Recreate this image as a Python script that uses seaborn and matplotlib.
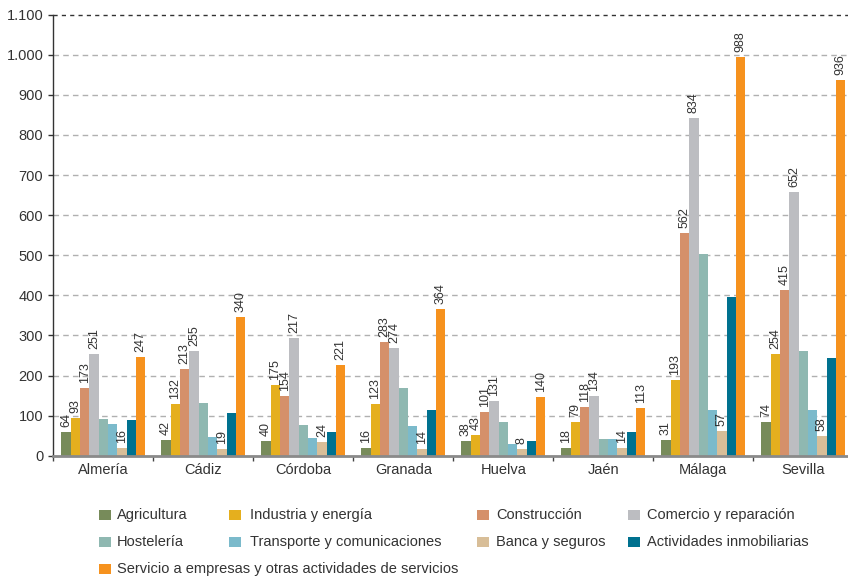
import matplotlib
matplotlib.use("Agg")
import matplotlib.pyplot as plt
from matplotlib.patches import Rectangle
from matplotlib.ticker import FuncFormatter, FixedLocator
import seaborn as sns
import pandas as pd

provinces = ["Almería", "Cádiz", "Córdoba", "Granada", "Huelva", "Jaén", "Málaga", "Sevilla"]
sectors = ["Agricultura", "Industria y energía", "Construcción", "Comercio y reparación",
           "Hostelería", "Transporte y comunicaciones", "Banca y seguros",
           "Actividades inmobiliarias",
           "Servicio a empresas y otras actividades de servicios"]
colors = ["#778B5A", "#E5AF1E", "#D5906A", "#BCBDC1", "#8FB8B1", "#7BBACB",
          "#D8BE98", "#00718F", "#F6921E"]

# bar heights as drawn
agricultura = [59, 39, 37, 19, 37, 19, 39, 84]
industria = [94, 129, 176, 129, 52, 84, 189, 254]
construccion = [169, 216, 149, 284, 109, 121, 555, 413]
comercio = [254, 261, 294, 269, 136, 149, 842, 658]
hosteleria = [92, 131, 77, 169, 84, 42, 503, 261]
transporte = [79, 47, 44, 74, 29, 42, 114, 114]
banca = [19, 17, 34, 17, 17, 19, 62, 49]
inmobiliarias = [89, 106, 59, 114, 37, 59, 396, 244]
servicios = [247, 346, 226, 366, 146, 119, 994, 937]

# value labels printed above bars
agricultura_lbl = [64, 42, 40, 16, 38, 18, 31, 74]
industria_lbl = [93, 132, 175, 123, 43, 79, 193, 254]
construccion_lbl = [173, 213, 154, 283, 101, 118, 562, 415]
comercio_lbl = [251, 255, 217, 274, 131, 134, 834, 652]
banca_lbl = [16, 19, 24, 14, 8, 14, 57, 58]
servicios_lbl = [247, 340, 221, 364, 140, 113, 988, 936]

yticks = [0, 100, 200, 300, 400, 500, 600, 700, 800, 900, 1000, 1100]

series = [agricultura, industria, construccion, comercio, hosteleria, transporte,
          banca, inmobiliarias, servicios]
labels = [agricultura_lbl, industria_lbl, construccion_lbl, comercio_lbl, None, None,
          banca_lbl, None, servicios_lbl]

rows = []
for s, vals in zip(sectors, series):
    for p, v in zip(provinces, vals):
        rows.append({"Provincia": p, "Sector": s, "Valor": v})
df = pd.DataFrame(rows)

plt.rcParams["font.family"] = ["Liberation Sans", "DejaVu Sans"]
TXT = "#333333"

W, H = 848, 578
fig = plt.figure(figsize=(W / 100, H / 100), dpi=100)
ax_left, ax_right, ax_top, ax_bottom = 53.3, 848, 14.7, 455.7
ax = fig.add_axes([ax_left / W, 1 - ax_bottom / H, (ax_right - ax_left) / W,
                   (ax_bottom - ax_top) / H])

sns.barplot(data=df, x="Provincia", y="Valor", hue="Sector", order=provinces,
            hue_order=sectors, palette=colors, width=0.84, linewidth=0,
            saturation=1, legend=False, ax=ax, zorder=3)

ax.set_xlim(-0.5, -0.5 + (ax_right - ax_left) / 100.0)
ax.set_ylim(0, 1100)
ax.set_xlabel("")
ax.set_ylabel("")

# grid
for t in yticks[1:-1]:
    ax.axhline(t, color="#b0b0b0", lw=1, ls=(0, (4, 3)), zorder=1)
ax.axhline(1100, color="#333333", lw=1, ls=(0, (3, 3)), zorder=1, clip_on=False)

# y axis
ax.yaxis.set_major_locator(FixedLocator(yticks))
ax.yaxis.set_major_formatter(FuncFormatter(lambda v, p: f"{int(v):,}".replace(",", ".")))
ax.tick_params(axis="y", length=3.6, width=1, color="#333333", pad=3.6,
               labelsize=10.5, labelcolor=TXT)

# x axis: boundaries as major ticks, names as minor ticks
ax.xaxis.set_major_locator(FixedLocator([i - 0.5 for i in range(len(provinces) + 1)]))
ax.xaxis.set_major_formatter(FuncFormatter(lambda v, p: ""))
ax.xaxis.set_minor_locator(FixedLocator(list(range(len(provinces)))))
ax.set_xticklabels(provinces, minor=True)
ax.tick_params(axis="x", which="major", length=3.6, width=1, color="#444444")
ax.tick_params(axis="x", which="minor", length=0, pad=5, labelsize=10.5, labelcolor=TXT)

for side in ["top", "right"]:
    ax.spines[side].set_visible(False)
ax.spines["left"].set_color("#333333")
ax.spines["left"].set_linewidth(1)
ax.spines["bottom"].set_color("#8a8a8a")
ax.spines["bottom"].set_linewidth(2)
ax.spines["bottom"].set_zorder(4)

# value labels
for cont, lbl in zip(ax.containers, labels):
    if lbl is None:
        continue
    ax.bar_label(cont, labels=[str(v) for v in lbl], rotation=90, padding=3.5,
                 fontsize=9, color=TXT)

# legend (manual placement)
mark_x = [99, 229, 477, 628]
text_x = [117, 250, 496, 647]
row_y = [514.7, 541.7, 568.7]
positions = [(0, 0), (0, 1), (0, 2), (0, 3), (1, 0), (1, 1), (1, 2), (1, 3), (2, 0)]
for (r, c), name, col in zip(positions, sectors, colors):
    y = row_y[r]
    fig.add_artist(Rectangle((mark_x[c] / W, 1 - (y + 5) / H), 12 / W, 10 / H,
                             transform=fig.transFigure, facecolor=col, edgecolor="none"))
    fig.text(text_x[c] / W, 1 - y / H, name, fontsize=10.5, color=TXT,
             ha="left", va="center")

fig.savefig("out.png", dpi=100)
